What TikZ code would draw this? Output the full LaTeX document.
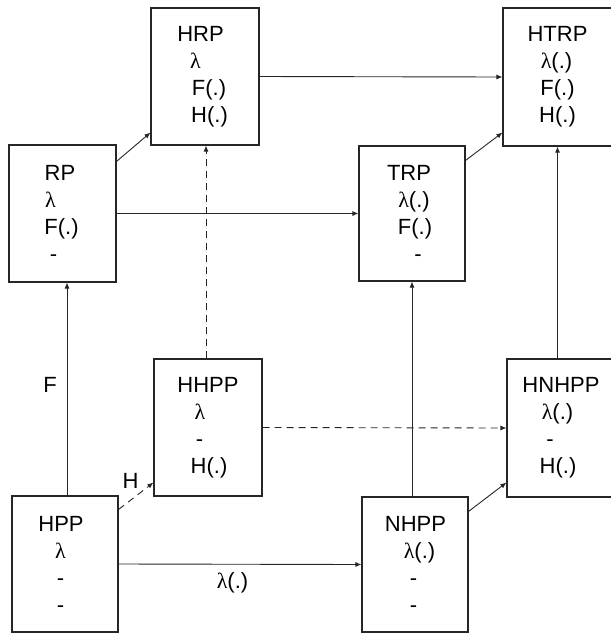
\documentclass[tikz,border=0pt]{standalone}
\usepackage{fontspec}
\setmainfont{Liberation Sans}
\newfontfamily\lamfont{Liberation Serif}
\usetikzlibrary{arrows.meta}
\newcommand{\lam}{{\lamfont λ}}
% a line of text whose centre sits #1 to the right of the box centre
\newcommand{\Ln}[2]{\makebox[0pt]{\hspace*{#1}\hspace*{#1}#2}}
\begin{document}
\begin{tikzpicture}[x=1pt,y=-1pt,
  box/.style={draw=black!85,line width=1.1pt,rectangle,inner sep=0pt,
    minimum width=107pt,minimum height=137pt,align=center,
    font=\fontsize{22}{27}\selectfont},
  conn/.style={draw=black!85,line width=0.9pt,-{Latex[length=6pt,width=5pt]}},
  dconn/.style={conn,dash pattern=on 7pt off 5pt},
  lbl/.style={font=\fontsize{22}{26}\selectfont,inner sep=0pt}]
\useasboundingbox (0,0) rectangle (611,633);
\node[box,minimum width=108pt] (HRP) at (205,76.5)
  {\Ln{-4.5pt}{HRP}\\\Ln{-9.5pt}{\lam}\\\Ln{4pt}{F(.)}\\\Ln{4.5pt}{H(.)}};
\node[box] (RP) at (62.5,213.5)
  {\Ln{-2.5pt}{RP}\\\Ln{-12pt}{\lam}\\\Ln{-1pt}{F(.)}\\\Ln{-9pt}{-}};
\node[box,minimum width=109pt,minimum height=138pt] (HTRP) at (557.5,77)
  {\Ln{0pt}{HTRP}\\\Ln{-1pt}{\lam(.)}\\\Ln{0pt}{F(.)}\\\Ln{0pt}{H(.)}};
\node[box,minimum width=106pt,minimum height=135pt] (TRP) at (412,213.5)
  {\Ln{-3pt}{TRP}\\\Ln{2pt}{\lam(.)}\\\Ln{3pt}{F(.)}\\\Ln{6pt}{-}};
\node[box,minimum width=108pt] (HHPP) at (208,427.5)
  {\Ln{0pt}{HHPP}\\\Ln{-8pt}{\lam}\\\Ln{-8.5pt}{-}\\\Ln{1pt}{H(.)}};
\node[box,minimum width=106pt,minimum height=136pt] (HPP) at (65,564)
  {\Ln{-4pt}{HPP}\\\Ln{-4.5pt}{\lam}\\\Ln{-4.5pt}{-}\\\Ln{-4.5pt}{-}};
\node[box,minimum width=106pt,minimum height=138pt] (HNHPP) at (560,428)
  {\Ln{1pt}{HNHPP}\\\Ln{-2.5pt}{\lam(.)}\\\Ln{-10pt}{-}\\\Ln{-2pt}{H(.)}};
\node[box,minimum width=106pt,minimum height=135pt] (NHPP) at (415,564.5)
  {\Ln{0.5pt}{NHPP}\\\Ln{4.5pt}{\lam(.)}\\\Ln{-1.5pt}{-}\\\Ln{-1.5pt}{-}};
% labels
\node[lbl] (lF) at (50,385) {F};
\node[lbl] (lH) at (130.5,480.5) {H};
\node[lbl] (ll) at (232.5,583) {\lam(.)};
% connectors
\draw[conn] ([xshift=2pt]HPP.north) -- ([xshift=2pt]HPP.north |- RP.south);
\draw[dconn] ([yshift=-14pt]HPP.north east) -- ([yshift=14pt]HHPP.south west);
\draw[conn] (HPP.east) -- (NHPP.west);
\draw[dconn] ([xshift=-2pt]HHPP.north) -- ([xshift=-2pt]HHPP.north |- HRP.south);
\draw[dconn] (HHPP.east) -- (HNHPP.west);
\draw[conn] ([yshift=-17pt]RP.north east) -- ([yshift=13pt]HRP.south west);
\draw[conn] (RP.east) -- (TRP.west);
\draw[conn] (HRP.east) -- (HTRP.west);
\draw[conn] ([yshift=-15pt]TRP.north east) -- ([yshift=14pt]HTRP.south west);
\draw[conn] (TRP.south |- NHPP.north) -- (TRP.south);
\draw[conn] (HTRP.south |- HNHPP.north) -- (HTRP.south);
\draw[conn] ([yshift=-15pt]NHPP.north east) -- ([yshift=15pt]HNHPP.south west);
\end{tikzpicture}
\end{document}
